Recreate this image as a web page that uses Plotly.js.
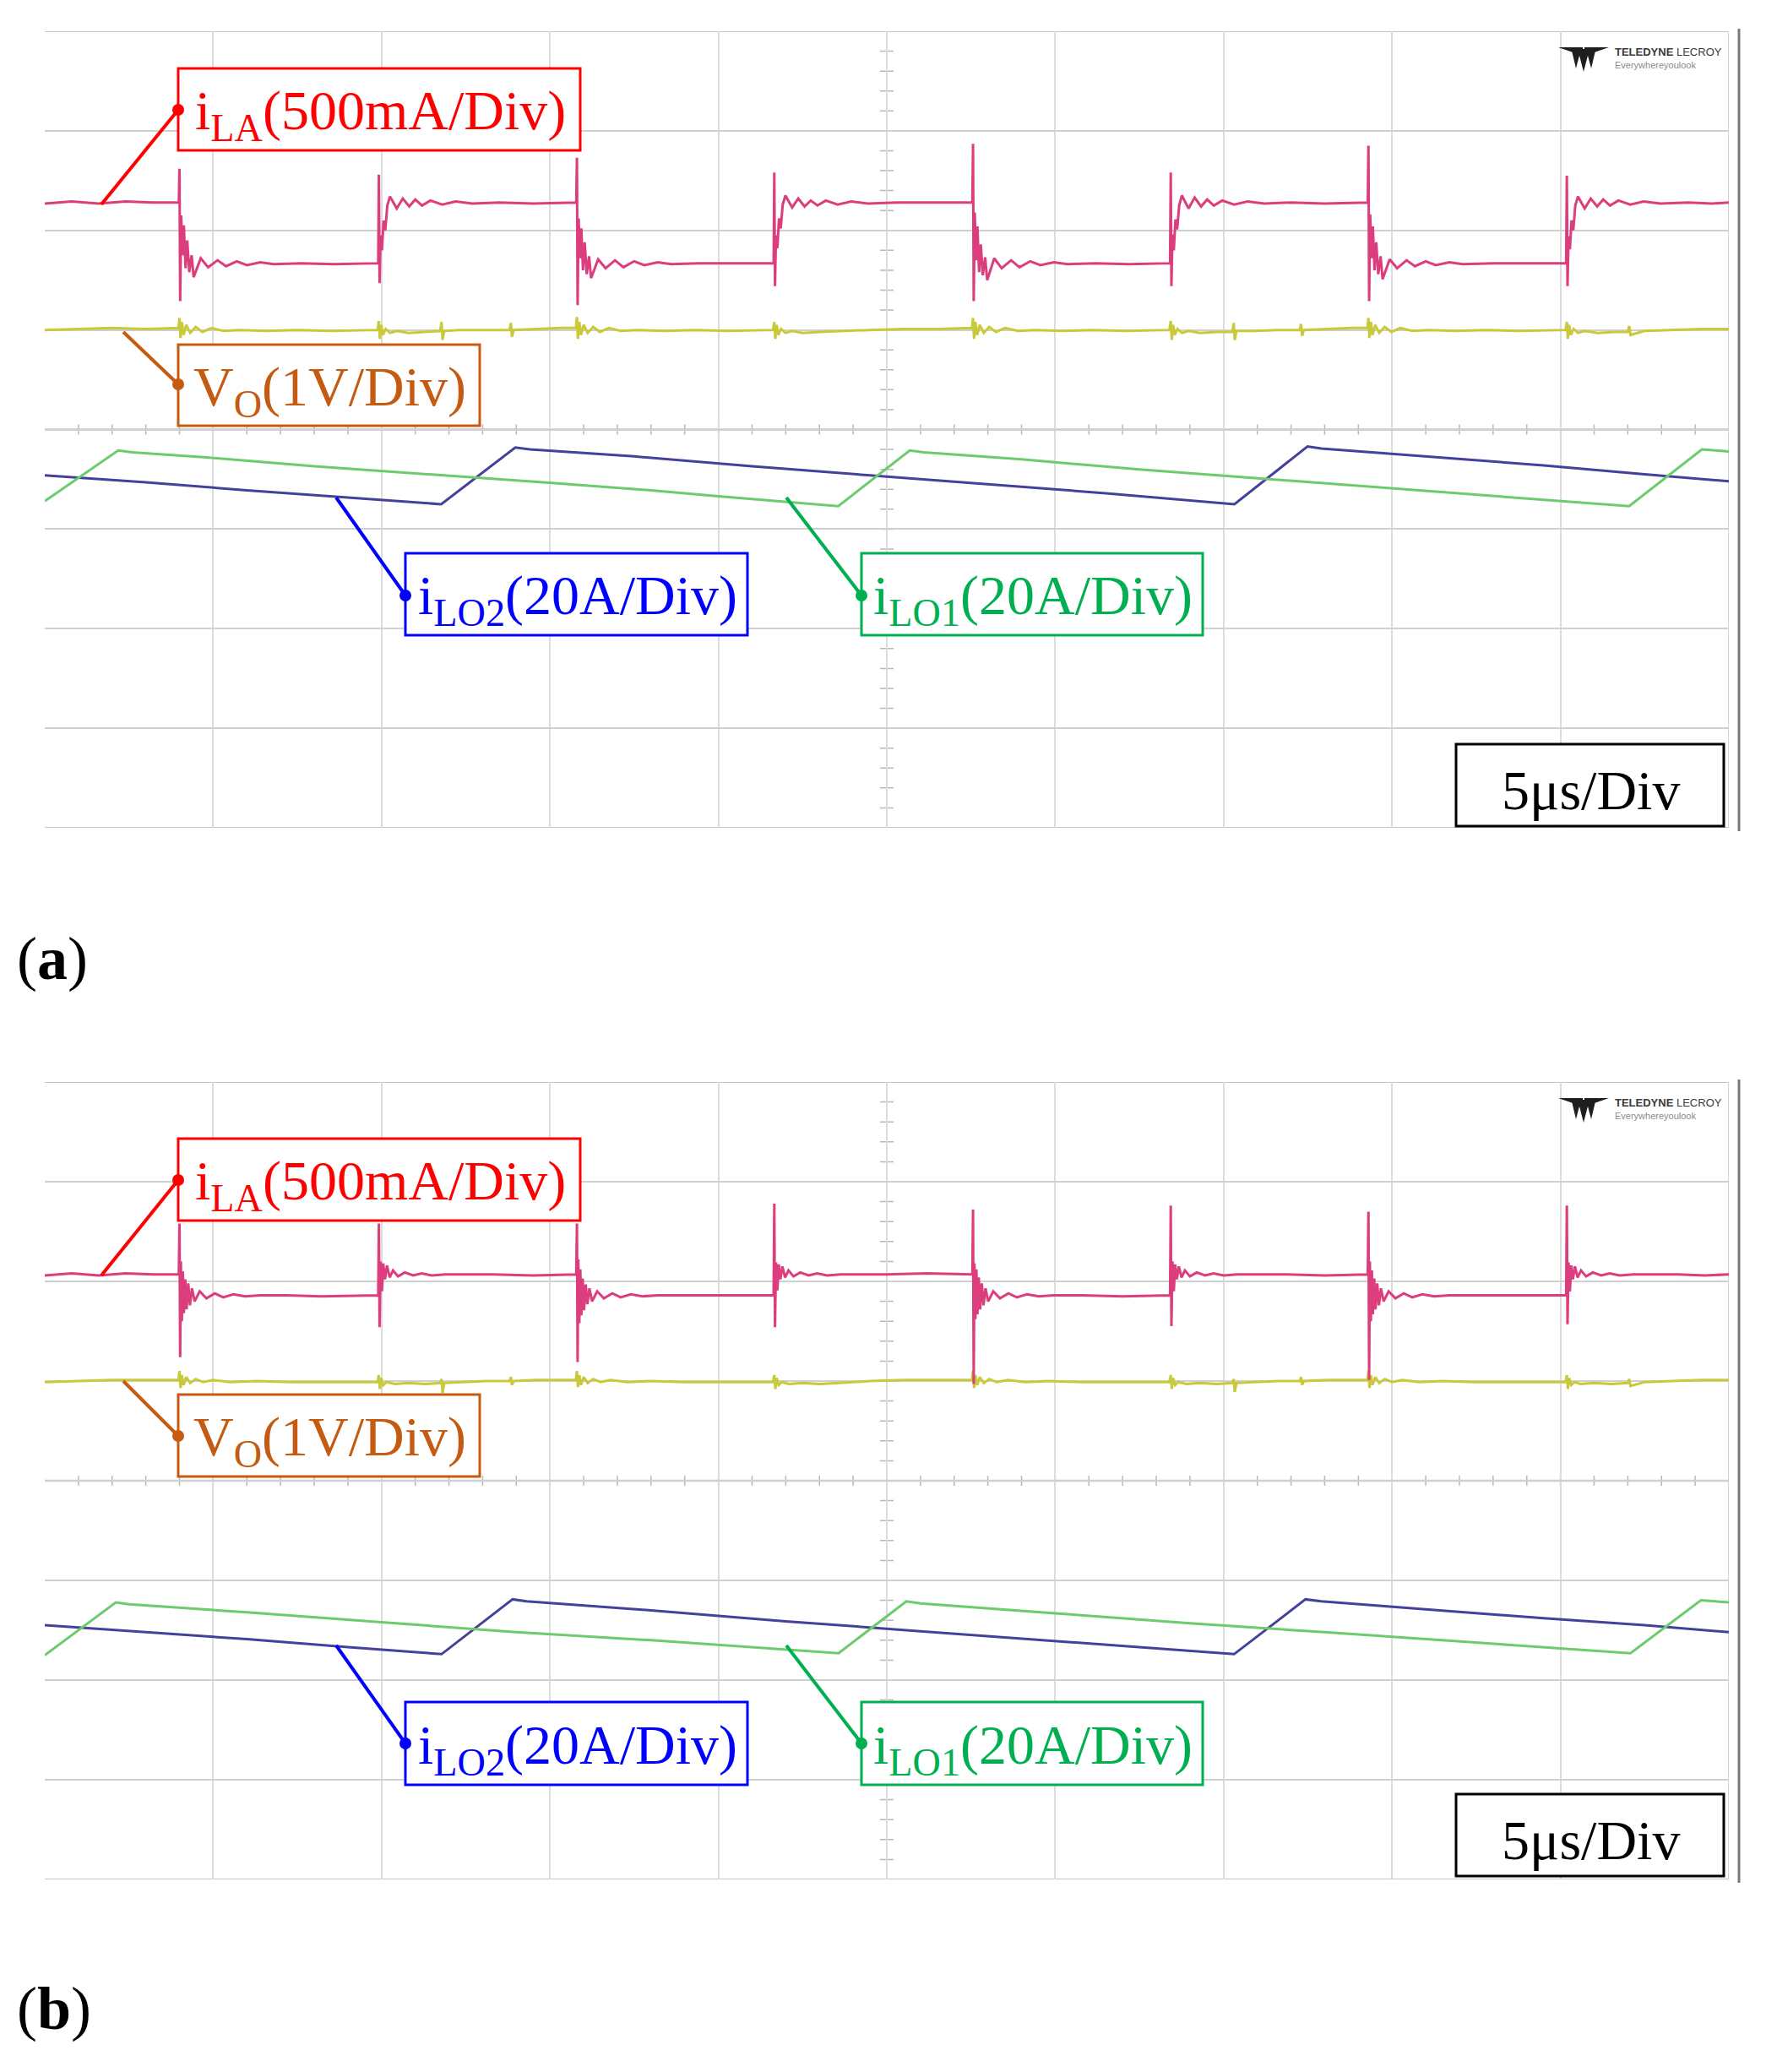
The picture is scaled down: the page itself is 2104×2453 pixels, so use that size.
<!DOCTYPE html>
<html>
<head>
<meta charset="utf-8">
<script src="https://cdn.plot.ly/plotly-3.0.1.min.js"></script>
<style>html,body{margin:0;padding:0;background:#fff;}#chart{width:2104px;height:2453px;}</style>
</head>
<body>
<div id="chart"></div>
<script>
// ---- Data (time in µs, 5 µs/div; vertical values in screen divisions from graticule centre) ----
const timeTicks = [5, 10, 15, 20, 25, 30, 35, 40, 45];
const divTicks = [-3, -2, -1, 0, 1, 2, 3];

// Panel (a): i_LA
const iLA_a = [
 [0,2.27],[0.8,2.29],[1.6,2.27],[2.4,2.29],[3.2,2.28],[3.98,2.28],
 [4.00,2.62],[4.02,1.29],[4.05,2.15],[4.09,1.75],[4.13,2.05],[4.18,1.62],[4.23,1.90],[4.29,1.58],[4.36,1.75],[4.42,1.53],[4.63,1.72],[4.85,1.63],[5.13,1.70],[5.38,1.64],[5.70,1.69],[6.00,1.65],[6.40,1.68],[6.80,1.66],[7.6,1.67],[8.6,1.66],[9.90,1.67],
 [9.92,2.56],[9.94,1.47],[9.97,1.95],[10.01,1.80],[10.06,2.10],[10.11,2.00],[10.17,2.25],[10.25,2.34],[10.45,2.22],[10.63,2.32],[10.82,2.24],[11.00,2.31],[11.20,2.25],[11.45,2.30],[11.80,2.26],[12.20,2.29],[12.70,2.27],[13.5,2.28],[14.5,2.27],[15.78,2.28],
 [15.80,2.73],[15.82,1.25],[15.85,2.12],[15.89,1.72],[15.93,2.02],[15.98,1.60],[16.03,1.88],[16.09,1.56],[16.16,1.74],[16.22,1.52],[16.43,1.71],[16.65,1.62],[16.93,1.70],[17.18,1.63],[17.50,1.69],[17.80,1.65],[18.20,1.68],[18.60,1.66],[19.4,1.67],[20.4,1.67],[21.64,1.67],
 [21.66,2.58],[21.68,1.44],[21.71,1.95],[21.75,1.82],[21.80,2.12],[21.85,2.02],[21.91,2.26],[21.99,2.35],[22.19,2.23],[22.37,2.32],[22.56,2.24],[22.74,2.30],[22.94,2.25],[23.19,2.30],[23.54,2.26],[23.94,2.29],[24.44,2.27],[25.3,2.28],[26.3,2.28],[27.54,2.28],
 [27.56,2.87],[27.58,1.29],[27.61,2.18],[27.65,1.70],[27.69,2.04],[27.74,1.58],[27.79,1.86],[27.85,1.55],[27.92,1.73],[27.98,1.50],[28.19,1.72],[28.41,1.62],[28.69,1.70],[28.94,1.63],[29.26,1.69],[29.56,1.65],[29.96,1.68],[30.36,1.66],[31.2,1.67],[32.2,1.66],[33.41,1.67],
 [33.43,2.58],[33.45,1.44],[33.48,1.96],[33.52,1.80],[33.57,2.11],[33.62,2.01],[33.68,2.25],[33.76,2.35],[33.96,2.22],[34.14,2.33],[34.33,2.24],[34.51,2.31],[34.71,2.25],[34.96,2.30],[35.31,2.26],[35.71,2.29],[36.21,2.27],[37.0,2.28],[38.0,2.27],[39.28,2.28],
 [39.30,2.85],[39.32,1.29],[39.35,2.16],[39.39,1.72],[39.43,2.04],[39.48,1.60],[39.53,1.88],[39.59,1.56],[39.66,1.74],[39.72,1.51],[39.93,1.71],[40.15,1.62],[40.43,1.70],[40.68,1.64],[41.00,1.69],[41.30,1.65],[41.70,1.68],[42.10,1.66],[43.0,1.67],[44.0,1.67],[45.17,1.67],
 [45.19,2.55],[45.21,1.44],[45.24,1.94],[45.28,1.81],[45.33,2.10],[45.38,2.00],[45.44,2.25],[45.52,2.34],[45.72,2.22],[45.90,2.32],[46.09,2.24],[46.27,2.31],[46.47,2.25],[46.72,2.30],[47.07,2.26],[47.47,2.29],[47.97,2.27],[48.8,2.28],[49.5,2.27],[50,2.28]
];

// Panel (a): V_O
const VO_a = [
 [0,1.00],[1.0,1.01],[2.0,1.02],[3.0,1.01],[3.97,1.02],[4.00,1.12],[4.03,0.92],[4.07,1.08],[4.12,0.95],[4.20,1.05],[4.32,0.97],[4.48,1.03],[4.68,0.98],[4.95,1.02],[5.3,0.99],[5.8,1.00],[6.6,0.99],[7.5,1.00],[8.5,0.99],
 [9.88,1.00],[9.92,1.09],[9.95,0.91],[9.99,1.05],[10.04,0.95],[10.12,1.01],[10.25,0.97],[10.45,0.99],[10.8,0.97],[11.3,0.98],
 [11.74,0.99],[11.78,1.08],[11.81,0.90],[11.86,0.99],[12.3,1.00],[13.0,1.00],[13.80,1.00],[13.84,1.07],[13.87,0.93],[13.92,1.00],[14.6,1.01],[15.3,1.02],
 [15.77,1.02],[15.80,1.13],[15.83,0.91],[15.87,1.08],[15.92,0.95],[16.00,1.05],[16.12,0.97],[16.28,1.03],[16.48,0.98],[16.75,1.02],[17.1,0.99],[17.6,1.00],[18.4,0.99],[19.3,1.00],[20.3,0.99],
 [21.62,1.00],[21.66,1.08],[21.69,0.91],[21.73,1.05],[21.78,0.95],[21.86,1.01],[21.99,0.97],[22.19,0.99],[22.5,0.97],[23.0,0.98],[23.6,0.99],[24.5,1.00],[25.5,1.01],[26.5,1.01],
 [27.53,1.02],[27.56,1.12],[27.59,0.91],[27.63,1.08],[27.68,0.95],[27.76,1.05],[27.88,0.97],[28.04,1.03],[28.24,0.98],[28.51,1.02],[28.9,0.99],[29.4,1.00],[30.2,0.99],[31.1,1.00],[32.1,0.99],
 [33.39,1.00],[33.43,1.09],[33.46,0.90],[33.50,1.05],[33.55,0.95],[33.63,1.01],[33.76,0.97],[33.96,0.99],[34.3,0.97],[34.8,0.98],
 [35.26,0.98],[35.30,1.07],[35.33,0.90],[35.38,0.99],[35.9,0.99],[36.6,1.00],[37.26,1.00],[37.30,1.06],[37.33,0.94],[37.38,1.00],[38.1,1.01],[38.8,1.02],
 [39.27,1.02],[39.30,1.12],[39.33,0.92],[39.37,1.08],[39.42,0.95],[39.50,1.05],[39.62,0.97],[39.78,1.03],[39.98,0.98],[40.25,1.02],[40.6,0.99],[41.1,1.00],[41.9,0.99],[42.8,1.00],[43.8,0.99],
 [45.15,1.00],[45.19,1.08],[45.22,0.91],[45.26,1.05],[45.31,0.95],[45.39,1.01],[45.52,0.97],[45.72,0.99],[46.1,0.97],[46.6,0.98],
 [47.0,0.98],[47.04,1.04],[47.08,0.95],[47.5,0.99],[48.3,1.00],[49.2,1.01],[50,1.01]
];

// Panel (a): i_LO1 (green) and i_LO2 (blue)
const iLO1_a = [[0,-0.72],[2.18,-0.21],[2.6,-0.23],[4.8,-0.28],[8.0,-0.37],[11.5,-0.45],[14.8,-0.53],[18.0,-0.61],[20.0,-0.67],[23.56,-0.77],
 [25.68,-0.21],[26.1,-0.23],[29.0,-0.30],[32.5,-0.40],[36.0,-0.49],[39.5,-0.58],[43.0,-0.67],[47.04,-0.77],[49.2,-0.20],[50,-0.22]];
const iLO2_a = [[0,-0.46],[3.0,-0.53],[6.0,-0.61],[9.0,-0.68],[11.77,-0.75],[13.97,-0.18],[14.4,-0.20],[17.5,-0.27],[21.0,-0.37],[24.5,-0.46],
 [28.0,-0.55],[31.5,-0.64],[35.32,-0.75],[37.49,-0.17],[37.9,-0.19],[41.0,-0.27],[44.5,-0.36],[47.5,-0.45],[50,-0.52]];

// Panel (b): i_LA
const iLA_b = [
 [0,2.06],[0.8,2.08],[1.6,2.06],[2.4,2.08],[3.2,2.07],[3.98,2.07],
 [4.00,2.58],[4.02,1.24],[4.04,2.20],[4.07,1.60],[4.10,2.10],[4.13,1.68],[4.17,2.02],[4.21,1.72],[4.26,1.98],[4.31,1.76],[4.37,1.93],[4.45,1.80],[4.60,1.90],[4.80,1.83],[5.05,1.88],[5.30,1.84],[5.60,1.87],[5.95,1.85],[6.40,1.86],[7.2,1.86],[8.2,1.85],[9.90,1.86],
 [9.92,2.58],[9.94,1.54],[9.97,2.20],[10.01,1.90],[10.05,2.18],[10.10,2.02],[10.16,2.16],[10.24,2.04],[10.34,2.11],[10.49,2.05],[10.69,2.09],[10.94,2.06],[11.19,2.08],[11.49,2.06],[11.89,2.07],[12.39,2.07],[13.3,2.07],[14.5,2.06],[15.78,2.07],
 [15.80,2.58],[15.82,1.19],[15.84,2.22],[15.87,1.58],[15.90,2.12],[15.93,1.66],[15.97,2.03],[16.01,1.71],[16.06,1.97],[16.11,1.77],[16.17,1.93],[16.25,1.80],[16.40,1.90],[16.60,1.83],[16.85,1.88],[17.10,1.84],[17.40,1.87],[17.75,1.85],[18.20,1.86],[19.0,1.86],[20.2,1.86],[21.64,1.86],
 [21.66,2.78],[21.68,1.54],[21.71,2.19],[21.75,1.91],[21.79,2.17],[21.84,2.02],[21.90,2.15],[21.98,2.04],[22.08,2.11],[22.23,2.05],[22.43,2.09],[22.68,2.06],[22.93,2.08],[23.23,2.06],[23.63,2.07],[24.13,2.07],[25.0,2.07],[26.2,2.08],[27.54,2.07],
 [27.56,2.72],[27.58,0.97],[27.60,2.18],[27.63,1.62],[27.66,2.12],[27.69,1.67],[27.73,2.04],[27.77,1.72],[27.82,1.98],[27.87,1.76],[27.93,1.93],[28.01,1.80],[28.16,1.90],[28.36,1.83],[28.61,1.88],[28.86,1.84],[29.16,1.87],[29.51,1.85],[29.96,1.86],[30.8,1.86],[32.0,1.85],[33.41,1.86],
 [33.43,2.76],[33.45,1.55],[33.48,2.20],[33.52,1.90],[33.56,2.17],[33.61,2.02],[33.67,2.15],[33.75,2.04],[33.85,2.11],[34.00,2.05],[34.20,2.09],[34.45,2.06],[34.70,2.08],[35.00,2.06],[35.40,2.07],[35.90,2.07],[36.8,2.07],[38.0,2.06],[39.28,2.07],
 [39.30,2.70],[39.32,1.01],[39.34,2.20],[39.37,1.60],[39.40,2.11],[39.43,1.67],[39.47,2.03],[39.51,1.72],[39.56,1.98],[39.61,1.76],[39.67,1.93],[39.75,1.80],[39.90,1.90],[40.10,1.83],[40.35,1.88],[40.60,1.84],[40.90,1.87],[41.25,1.85],[41.70,1.86],[42.6,1.86],[43.8,1.86],[45.17,1.86],
 [45.19,2.76],[45.21,1.57],[45.24,2.19],[45.28,1.90],[45.32,2.16],[45.37,2.02],[45.43,2.15],[45.51,2.04],[45.61,2.11],[45.76,2.05],[45.96,2.09],[46.21,2.06],[46.46,2.08],[46.76,2.06],[47.16,2.07],[47.66,2.07],[48.5,2.07],[49.3,2.06],[50,2.07]
];

// Panel (b): V_O
const VO_b = [
 [0,0.99],[1.0,1.00],[2.0,1.01],[3.0,1.01],[3.97,1.01],[4.00,1.10],[4.03,0.93],[4.07,1.06],[4.12,0.96],[4.20,1.04],[4.32,0.98],[4.48,1.02],[4.70,0.99],[5.0,1.01],[5.5,0.99],[6.3,1.00],[7.3,0.99],[8.5,0.99],
 [9.88,0.99],[9.92,1.06],[9.95,0.92],[9.99,1.03],[10.05,0.96],[10.15,0.99],[10.4,0.97],[10.8,0.98],[11.3,0.97],
 [11.74,0.98],[11.78,1.02],[11.81,0.88],[11.86,0.98],[12.4,0.99],[13.1,1.00],[13.80,1.00],[13.84,1.04],[13.87,0.96],[13.92,1.00],[14.6,1.01],[15.3,1.01],
 [15.77,1.01],[15.80,1.10],[15.83,0.94],[15.87,1.06],[15.92,0.96],[16.00,1.04],[16.12,0.98],[16.28,1.02],[16.50,0.99],[16.8,1.01],[17.3,0.99],[18.0,1.00],[19.0,0.99],[20.3,0.99],
 [21.62,0.99],[21.66,1.06],[21.69,0.92],[21.73,1.03],[21.79,0.96],[21.88,0.99],[22.1,0.97],[22.5,0.98],[23.0,0.97],[23.6,0.98],[24.5,1.00],[25.5,1.01],[26.5,1.01],
 [27.53,1.01],[27.56,1.10],[27.59,0.93],[27.63,1.06],[27.68,0.96],[27.76,1.04],[27.88,0.98],[28.04,1.02],[28.26,0.99],[28.6,1.01],[29.1,0.99],[29.8,1.00],[30.8,0.99],[32.0,0.99],
 [33.39,0.99],[33.43,1.06],[33.46,0.92],[33.50,1.03],[33.56,0.96],[33.65,0.99],[33.9,0.97],[34.3,0.98],[34.8,0.97],
 [35.26,0.98],[35.30,1.02],[35.33,0.89],[35.38,0.98],[35.9,0.99],[36.6,1.00],[37.26,1.00],[37.30,1.04],[37.33,0.96],[37.38,1.00],[38.1,1.01],[38.8,1.01],
 [39.27,1.01],[39.30,1.10],[39.33,0.93],[39.37,1.06],[39.42,0.96],[39.50,1.04],[39.62,0.98],[39.78,1.02],[40.0,0.99],[40.3,1.01],[40.8,0.99],[41.5,1.00],[42.5,0.99],[43.8,0.99],
 [45.15,0.99],[45.19,1.06],[45.22,0.92],[45.26,1.03],[45.32,0.96],[45.41,0.99],[45.6,0.97],[46.0,0.98],[46.5,0.97],
 [47.0,0.98],[47.04,1.02],[47.08,0.95],[47.5,0.99],[48.3,1.00],[49.2,1.01],[50,1.01]
];

// Panel (b): i_LO1 (green) and i_LO2 (blue)
const iLO1_b = [[0,-1.75],[2.11,-1.22],[2.5,-1.24],[6.0,-1.32],[10.0,-1.42],[14.0,-1.52],[18.0,-1.60],[21.0,-1.67],[23.57,-1.73],
 [25.58,-1.21],[26.0,-1.23],[30.0,-1.33],[34.0,-1.43],[38.0,-1.52],[42.0,-1.61],[45.0,-1.68],[47.08,-1.73],[49.17,-1.20],[50,-1.22]];
const iLO2_b = [[0,-1.45],[3.0,-1.52],[6.0,-1.59],[9.0,-1.67],[11.78,-1.74],[13.89,-1.19],[14.3,-1.21],[18.0,-1.30],[22.0,-1.41],[26.0,-1.51],
 [30.0,-1.61],[33.0,-1.68],[35.31,-1.74],[37.43,-1.19],[37.9,-1.21],[41.0,-1.29],[44.5,-1.38],[47.5,-1.45],[50,-1.52]];

// Labels
const labelTexts = ['i<sub>LA</sub>(500mA/Div)', 'V<sub>O</sub>(1V/Div)', 'i<sub>LO2</sub>(20A/Div)', 'i<sub>LO1</sub>(20A/Div)', '5μs/Div'];
const labelColors = ['#FF0000', '#C55A11', '#0000FF', '#00B050', '#000000'];
const panelTags = ['(<b>a</b>)', '(<b>b</b>)'];

// ---- Layout helpers (pixel geometry of the page) ----
const W = 2104, H = 2453;
const px = x => x / W;
const py = y => 1 - y / H;
const X0 = 53, X1 = 2047;
const panels = [
  {top: 37, bottom: 980, xa: 'x', ya: 'y', xn: 'xaxis', yn: 'yaxis',
   boxes: [[211,81,687,178],[211,408,568,504],[480,655,885,752],[1020,655,1424,752],[1724,881,2041,978]],
   leaders: [[120,242,211,130],[146,393,211,455],[398,589,480,705],[931,589,1020,705],null],
   tagY: 1135, iLA: iLA_a, VO: VO_a, iLO1: iLO1_a, iLO2: iLO2_a},
  {top: 1281, bottom: 2225, xa: 'x2', ya: 'y2', xn: 'xaxis2', yn: 'yaxis2',
   boxes: [[211,1348,687,1445],[211,1651,568,1748],[480,2015,885,2113],[1020,2015,1424,2113],[1724,2124,2041,2221]],
   leaders: [[120,1510,211,1397],[146,1635,211,1700],[398,1948,480,2064],[931,1948,1020,2064],null],
   tagY: 2378, iLA: iLA_b, VO: VO_b, iLO1: iLO1_b, iLO2: iLO2_b}
];

const traces = [];
const shapes = [];
const annotations = [];
const layout = {
  width: W, height: H, margin: {l: 0, r: 0, t: 0, b: 0, pad: 0},
  paper_bgcolor: '#ffffff', plot_bgcolor: '#ffffff', showlegend: false, hovermode: false,
  shapes: shapes, annotations: annotations
};

const serif = 'Liberation Serif, Times New Roman, serif';

panels.forEach((p, i) => {
  const axStyle = {showticklabels: false, ticks: '', zeroline: false, showline: false,
                   gridcolor: '#D5D5D5', gridwidth: 2, fixedrange: true};
  layout[p.xn] = Object.assign({}, axStyle, {domain: [px(X0), px(X1)], range: [0, 50],
                   tickvals: timeTicks, anchor: p.ya, gridcolor: '#DCDCDC'});
  layout[p.yn] = Object.assign({}, axStyle, {domain: [py(p.bottom), py(p.top)], range: [-4, 4],
                   tickvals: divTicks, anchor: p.xa, gridcolor: '#D0D0D0'});

  const mk = (arr, color, width) => ({
    type: 'scatter', mode: 'lines', x: arr.map(d => d[0]), y: arr.map(d => d[1]),
    xaxis: p.xa, yaxis: p.ya, line: {color: color, width: width}, hoverinfo: 'skip'
  });
  traces.push(mk(p.iLO2, '#42429A', 3));
  traces.push(mk(p.iLO1, '#6CCB6C', 3));
  traces.push(mk(p.VO, '#C9C93A', 3));
  traces.push(mk(p.iLA, '#DC3D7C', 3));

  // graticule frame
  const frame = {color: '#C4C4C4', width: 2};
  shapes.push({type: 'line', xref: p.xa, yref: p.ya, x0: 0, x1: 50, y0: 4, y1: 4, line: frame, layer: 'below'});
  shapes.push({type: 'line', xref: p.xa, yref: p.ya, x0: 0, x1: 50, y0: -4, y1: -4, line: frame, layer: 'below'});
  shapes.push({type: 'line', xref: p.xa, yref: p.ya, x0: 50, x1: 50, y0: -4, y1: 4, line: {color: '#D5D5D5', width: 2}, layer: 'below'});
  // centre-line minor ticks
  let path = '';
  for (let k = 1; k < 50; k++) path += `M${k},-0.05L${k},0.05`;
  for (let k = -19; k <= 19; k++) { if (k === 0) continue; const v = k * 0.2; path += `M24.8,${v.toFixed(2)}L25.2,${v.toFixed(2)}`; }
  shapes.push({type: 'path', xref: p.xa, yref: p.ya, path: path, line: {color: '#B8B8B8', width: 1.5}, layer: 'below'});
  shapes.push({type: 'line', xref: p.xa, yref: p.ya, x0: 0, x1: 50, y0: 0, y1: 0, line: {color: '#C8C8C8', width: 2.5}, layer: 'below'});
  // right bezel line
  shapes.push({type: 'line', xref: 'paper', yref: 'paper', x0: px(2059), x1: px(2059),
               y0: py(p.top - 3), y1: py(p.bottom + 4), line: {color: '#7A7A7A', width: 3}});

  // Teledyne LeCroy mark
  const lx = x => px(x), ly = y => py(y + p.top - 37);
  const logo = [
    [[1845,56],[1874,56],[1874,66]],
    [[1905,56],[1876,56],[1876,66]],
    [[1868,58],[1882,58],[1875,85]],
    [[1861,60],[1871,62],[1866,81]],
    [[1889,60],[1879,62],[1884,81]]
  ];
  logo.forEach(tri => {
    const d = 'M' + tri.map(q => `${lx(q[0]).toFixed(5)},${ly(q[1]).toFixed(5)}`).join('L') + 'Z';
    shapes.push({type: 'path', xref: 'paper', yref: 'paper', path: d, fillcolor: '#1E1E1E', line: {width: 0}});
  });
  annotations.push({xref: 'paper', yref: 'paper', x: px(1910), y: py(p.top - 37 + 61), xanchor: 'left', yanchor: 'middle',
    text: '<b>TELEDYNE</b> LECROY', showarrow: false, font: {family: 'Liberation Sans, Arial', size: 13, color: '#3A3A3A'}});
  annotations.push({xref: 'paper', yref: 'paper', x: px(1910), y: py(p.top - 37 + 77), xanchor: 'left', yanchor: 'middle',
    text: 'Everywhereyoulook', showarrow: false, font: {family: 'Liberation Sans, Arial', size: 11, color: '#8A8A8A'}});

  // label boxes, leader lines, dots, texts
  p.boxes.forEach((b, j) => {
    const c = labelColors[j];
    shapes.push({type: 'rect', xref: 'paper', yref: 'paper', x0: px(b[0]), x1: px(b[2]), y0: py(b[3]), y1: py(b[1]),
                 line: {color: c, width: 3}, fillcolor: '#ffffff', layer: 'above'});
    const L = p.leaders[j];
    if (L) {
      shapes.push({type: 'line', xref: 'paper', yref: 'paper', x0: px(L[0]), y0: py(L[1]), x1: px(L[2]), y1: py(L[3]),
                   line: {color: c, width: 4}, layer: 'above'});
      const r = 7;
      shapes.push({type: 'circle', xref: 'paper', yref: 'paper', x0: px(L[2] - r), x1: px(L[2] + r), y0: py(L[3] + r), y1: py(L[3] - r),
                   fillcolor: c, line: {color: c, width: 0}, layer: 'above'});
    }
    annotations.push({xref: 'paper', yref: 'paper', x: px((b[0] + b[2]) / 2 + 1), y: py((b[1] + b[3]) / 2 + 6),
      xanchor: 'center', yanchor: 'middle', showarrow: false, text: labelTexts[j],
      font: {family: serif, size: 66, color: c}});
  });

  annotations.push({xref: 'paper', yref: 'paper', x: px(18), y: py(p.tagY), xanchor: 'left', yanchor: 'middle',
    showarrow: false, text: panelTags[i], font: {family: serif, size: 72, color: '#000000'}});
});

Plotly.newPlot('chart', traces, layout, {displayModeBar: false});
</script>
</body>
</html>
